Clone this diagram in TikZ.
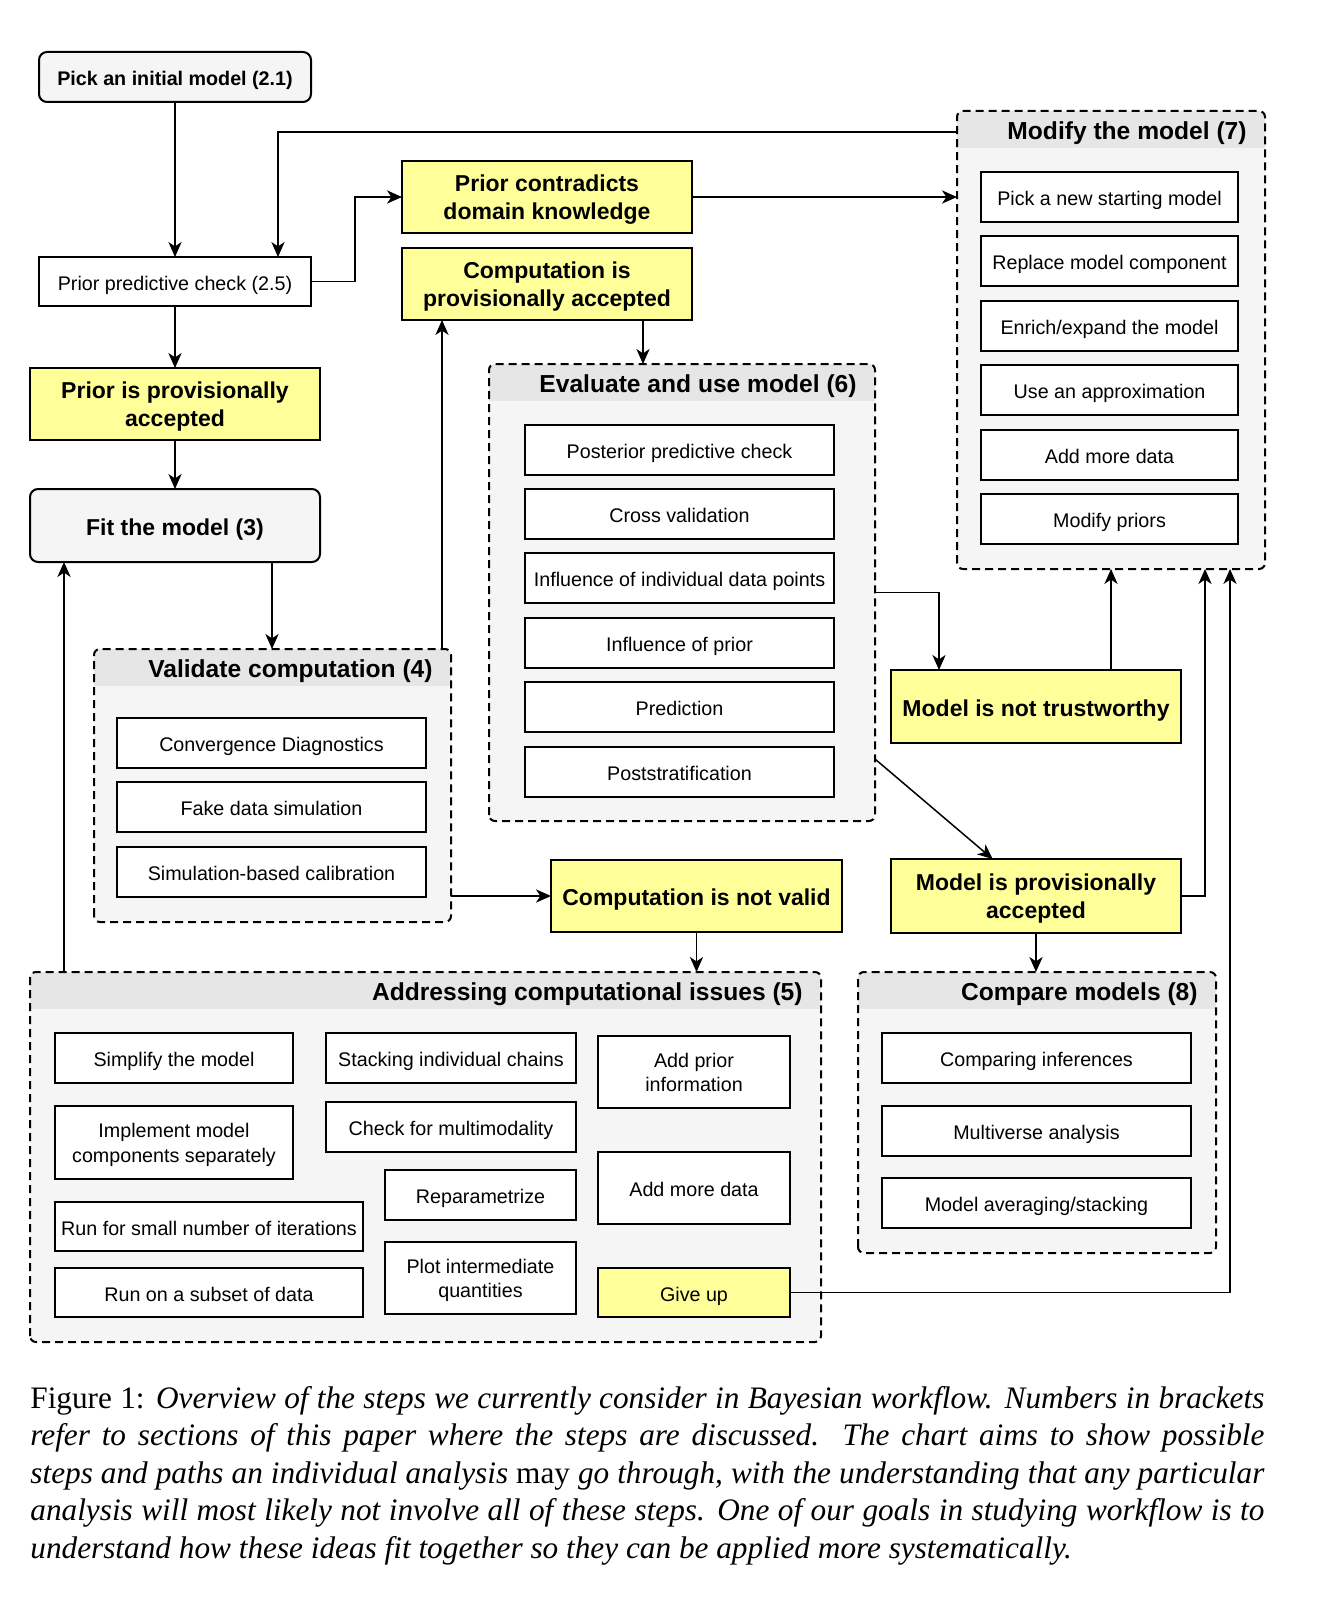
\documentclass[tikz,border=0pt]{standalone}
\usepackage{fontspec}
\setmainfont{Liberation Sans}
\newfontfamily\capfont{Liberation Serif}
\usetikzlibrary{arrows.meta}
\definecolor{yel}{HTML}{FFFF99}
\definecolor{bodyc}{HTML}{F5F5F5}
\definecolor{headc}{HTML}{E6E6E6}
\tikzset{
  base/.style={draw=black, line width=1pt, outer sep=0pt, inner sep=0pt},
  plain/.style={base, fill=white},
  yelfill/.style={base, fill=yel},
  startbox/.style={base, fill=bodyc, rounded corners=4pt},
  txt/.style={inner sep=0pt, align=center, yshift=-2pt,
    execute at begin node=\strut, execute at end node=\strut},
  smalltxt/.style={txt, font=\fontsize{9.85}{12.2}\selectfont},
  boldsmall/.style={txt, font=\bfseries\fontsize{9.85}{12.2}\selectfont},
  boldtxt/.style={txt, font=\bfseries\fontsize{11.5}{14}\selectfont},
  grp/.style={fill=bodyc, outer sep=0pt, inner sep=0pt, rounded corners=3pt},
  grpline/.style={draw=black, line width=1pt, dash pattern=on 4pt off 2.5pt, rounded corners=3pt},
  grptitle/.style={anchor=east, font=\bfseries\fontsize{12.3}{14}\selectfont, inner sep=0pt},
  arr/.style={-{Stealth[length=7.5pt,width=6.6pt,inset=2.2pt]}, line width=0.75pt},
  captext/.style={anchor=north west, inner sep=0pt, text width=617pt, align=justify,
    font=\capfont\fontsize{15.63}{18.75}\selectfont},
}
\newcommand\mkbox[8]{%
  \pgfmathsetmacro\bw{(#6-#4)/2}%
  \pgfmathsetmacro\bh{(#7-#5)/2}%
  \node[#2, minimum width=\bw pt, minimum height=\bh pt, label={[#3]center:{#8}}] (#1) at ({(#4+#6)/2},{(#5+#7)/2}) {};}
\newcommand\mkgrp[6]{%
  \pgfmathsetmacro\bw{(#4-#2)/2}%
  \pgfmathsetmacro\bh{(#5-#3)/2}%
  \node[grp, minimum width=\bw pt, minimum height=\bh pt] (#1) at ({(#2+#4)/2},{(#3+#5)/2}) {};
  \begin{scope}
    \clip[rounded corners=3pt] (#1.south west) rectangle (#1.north east);
    \fill[headc] (#1.north west) rectangle ([yshift=-18.6pt]#1.north east);
  \end{scope}
  \draw[grpline] (#1.south west) rectangle (#1.north east);
  \node[grptitle] (#1t) at ([xshift=-9pt,yshift=-11pt]#1.north east) {#6};}
\begin{document}
\begin{tikzpicture}[x=0.5pt,y=-0.5pt]
\useasboundingbox[fill=white] (0,0) rectangle (1330,1600);

% top-left chain
\mkbox{pick}{startbox}{boldsmall}{39}{52}{311}{102}{Pick an initial model (2.1)}
\mkbox{ppc}{plain}{smalltxt}{39}{257}{311}{306}{Prior predictive check (2.5)}
\mkbox{pc}{yelfill}{boldtxt}{402}{161}{692}{233}{Prior contradicts\\domain knowledge}
\mkbox{cpa}{yelfill}{boldtxt}{402}{248}{692}{320}{Computation is\\provisionally accepted}
\mkbox{ppa}{yelfill}{boldtxt}{30}{368}{320}{440}{Prior is provisionally\\accepted}
\mkbox{fit}{startbox}{boldtxt}{30}{489}{320}{562}{Fit the model (3)}

% Validate computation
\mkgrp{val}{94}{649}{451}{922}{Validate computation (4)}
\mkbox{v1}{plain}{smalltxt}{117}{718}{426}{768}{Convergence Diagnostics}
\mkbox{v2}{plain}{smalltxt}{117}{782}{426}{832}{Fake data simulation}
\mkbox{v3}{plain}{smalltxt}{117}{847}{426}{897}{Simulation-based calibration}

% Evaluate and use model
\mkgrp{ev}{489}{364}{875}{821}{Evaluate and use model (6)}
\mkbox{e1}{plain}{smalltxt}{525}{425}{834}{475}{Posterior predictive check}
\mkbox{e2}{plain}{smalltxt}{525}{489}{834}{539}{Cross validation}
\mkbox{e3}{plain}{smalltxt}{525}{553}{834}{603}{Influence of individual data points}
\mkbox{e4}{plain}{smalltxt}{525}{618}{834}{668}{Influence of prior}
\mkbox{e5}{plain}{smalltxt}{525}{682}{834}{732}{Prediction}
\mkbox{e6}{plain}{smalltxt}{525}{747}{834}{797}{Poststratification}

% Modify the model
\mkgrp{mod}{957}{111}{1265}{569}{Modify the model (7)}
\mkbox{m1}{plain}{smalltxt}{981}{172}{1238}{222}{Pick a new starting model}
\mkbox{m2}{plain}{smalltxt}{981}{236}{1238}{286}{Replace model component}
\mkbox{m3}{plain}{smalltxt}{981}{301}{1238}{351}{Enrich/expand the model}
\mkbox{m4}{plain}{smalltxt}{981}{365}{1238}{415}{Use an approximation}
\mkbox{m5}{plain}{smalltxt}{981}{430}{1238}{480}{Add more data}
\mkbox{m6}{plain}{smalltxt}{981}{494}{1238}{544}{Modify priors}

% outcomes
\mkbox{nt}{yelfill}{boldtxt}{891}{670}{1181}{743}{Model is not trustworthy}
\mkbox{mpa}{yelfill}{boldtxt}{891}{859}{1181}{933}{Model is provisionally\\accepted}
\mkbox{cnv}{yelfill}{boldtxt}{551}{860}{842}{932}{Computation is not valid}

% Addressing computational issues
\mkgrp{addr}{30}{972}{821}{1342}{Addressing computational issues (5)}
\mkbox{a1}{plain}{smalltxt}{55}{1033}{293}{1083}{Simplify the model}
\mkbox{a2}{plain}{smalltxt}{326}{1033}{576}{1083}{Stacking individual chains}
\mkbox{a3}{plain}{smalltxt}{598}{1036}{790}{1108}{Add prior\\information}
\mkbox{a4}{plain}{smalltxt}{55}{1106}{293}{1179}{Implement model\\components separately}
\mkbox{a5}{plain}{smalltxt}{326}{1102}{576}{1152}{Check for multimodality}
\mkbox{a6}{plain}{smalltxt}{385}{1170}{576}{1220}{Reparametrize}
\mkbox{a7}{plain}{smalltxt}{598}{1152}{790}{1224}{Add more data}
\mkbox{a8}{plain}{smalltxt}{55}{1202}{363}{1251}{Run for small number of iterations}
\mkbox{a9}{plain}{smalltxt}{55}{1268}{363}{1317}{Run on a subset of data}
\mkbox{a10}{plain}{smalltxt}{385}{1242}{576}{1314}{Plot intermediate\\quantities}
\mkbox{giveup}{yelfill}{smalltxt}{598}{1268}{790}{1317}{Give up}

% Compare models
\mkgrp{cmp}{858}{972}{1216}{1253}{Compare models (8)}
\mkbox{c1}{plain}{smalltxt}{882}{1033}{1191}{1083}{Comparing inferences}
\mkbox{c2}{plain}{smalltxt}{882}{1106}{1191}{1156}{Multiverse analysis}
\mkbox{c3}{plain}{smalltxt}{882}{1178}{1191}{1228}{Model averaging/stacking}

% helper coordinates
\coordinate (p1) at ([xshift=51.5pt]ppc.north);
\coordinate (f1) at ([xshift=48.5pt]fit.south);
\coordinate (vt) at ([xshift=-4.5pt]val.north east);
\coordinate (c1x) at ([xshift=48pt]cpa.south);
\coordinate (ax) at ([xshift=17pt]fit.south west);
\coordinate (n1) at ([xshift=-48.5pt]nt.north);
\coordinate (mk1) at ([xshift=47pt]mod.south);
\coordinate (mk2) at ([xshift=59.5pt]mod.south);

% connectors
\draw[arr] (pick) -- (ppc);
\draw[arr] ([yshift=-10.5pt]mod.north west) -| (p1);
\draw[arr] (ppc.east) -- ++(22pt,0) |- (pc.west);
\draw[arr] (pc.east) -- (pc.east -| mod.west);
\draw[arr] (ppc) -- (ppa);
\draw[arr] (ppa) -- (fit);
\draw[arr] (f1) -- (f1 |- val.north);
\draw[arr] (vt) -- (vt |- cpa.south);
\draw[arr] (c1x) -- (c1x |- ev.north);
\draw[arr] (cnv.west -| val.east) -- (cnv.west);
\draw[arr] (cnv.south) -- (cnv.south |- addr.north);
\draw[arr] (ax |- addr.north) -- (ax);
\draw[arr] (ev.east) -| (n1);
\draw[arr] (nt.north -| mod.south) -- (mod.south);
\draw[arr] ([yshift=-83.25pt]ev.east) -- ([xshift=-21.7pt]mpa.north);
\draw[arr] (mpa.east) -| (mk1);
\draw[arr] (giveup.east) -| (mk2);
\draw[arr] (mpa.south) -- (mpa.south |- cmp.north);

% caption
\node[captext] (caption) at (30,1386) {Figure 1: \itshape Overview of the steps we currently consider in Bayesian workflow. Numbers in brackets\linebreak
refer to sections of this paper where the steps are discussed.\ \ The chart aims to show possible\linebreak
steps and paths an individual analysis \upshape may \itshape go through, with the understanding that any particular\linebreak
analysis will most likely not involve all of these steps. One of our goals in studying workflow is to\linebreak
understand how these ideas fit together so they can be applied more systematically.\par};
\end{tikzpicture}
\end{document}
